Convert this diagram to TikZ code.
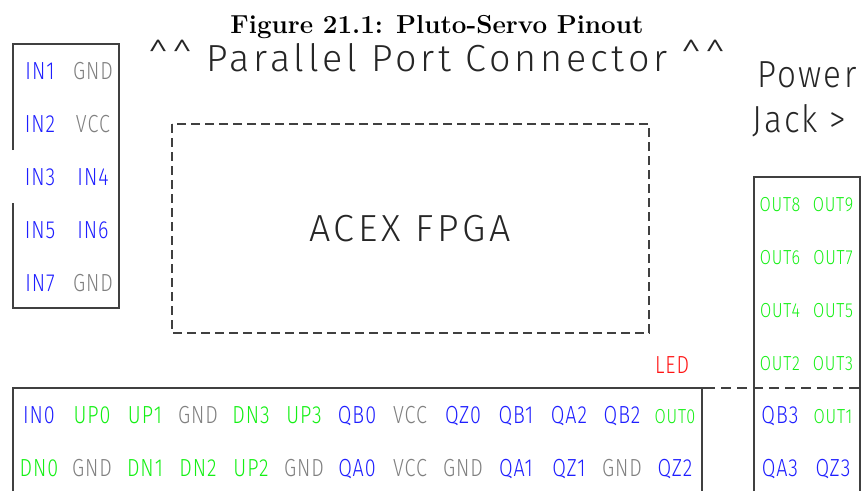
\documentclass[tikz,border=0pt]{standalone}
\usepackage{fontspec}
\usepackage{tikz}
\usetikzlibrary{positioning}
\newfontfamily\cadfont[LetterSpace=10]{Fira Sans Light}
\newfontfamily\jackfont[FakeStretch=0.88,LetterSpace=6]{Fira Sans Light}
\newfontfamily\pinfont[FakeStretch=0.8,LetterSpace=4]{Fira Sans Light}
\definecolor{pinblue}{RGB}{30,30,255}
\definecolor{pingreen}{RGB}{20,240,20}
\definecolor{pingray}{RGB}{128,128,128}
\definecolor{ledred}{RGB}{255,20,20}

\begin{document}
\begin{tikzpicture}[x=1pt,y=-1pt,
  big/.style={font=\cadfont\fontsize{37.7}{45}\selectfont,text=black!85,inner sep=0pt},
  jacktext/.style={big,font=\jackfont\fontsize{37.7}{45}\selectfont,anchor=base west},
  pin/.style={font=\pinfont\fontsize{24.7}{28}\selectfont,inner sep=0pt,anchor=base},
  outpin/.style={pin,font=\pinfont\fontsize{20.3}{24}\selectfont,text=pingreen},
  frame/.style={draw=black!75,line width=1.2pt},
  gapline/.style={frame,dash pattern=on 9pt off 5pt}]
\useasboundingbox (0,0) rectangle (864,491);
\node[font=\fontsize{26}{30}\selectfont\bfseries,anchor=base,inner sep=0pt] (title) at (437,33) {Figure 21.1: Pluto-Servo Pinout};
\node[big,anchor=base] (port) at (437,71) {\^{}\^{} Parallel Port Connector \^{}\^{}};
\node[jacktext] (power) at (757,87) {Power};
\node[jacktext] (jack) at (752,132) {Jack >};
\node[big] (fpga) at (410,229) {ACEX FPGA};
\node[pin,text=ledred] (led) at (672,373) {LED};
\draw[frame] (13,150) -- (13,44) -- (119,44) -- (119,308) -- (13,308) -- (13,203);
\draw[gapline] (172,124) rectangle (649,333);
\draw[frame] (13,491) -- (13,388) -- (705,388);
\draw[gapline,dash pattern=on 10pt off 6pt] (705,388) -- (864,388);
\draw[frame] (702,388) -- (702,491);
\draw[frame] (754,491) -- (754,177) -- (860,177) -- (860,491);
\foreach \a/\ca/\b/\cb [count=\i] in {IN1/pinblue/GND/pingray,IN2/pinblue/VCC/pingray,IN3/pinblue/IN4/pinblue,IN5/pinblue/IN6/pinblue,IN7/pinblue/GND/pingray}{
  \node[pin,text=\ca] (inL\i) at (40,{79+53*(\i-1)}) {\a};
  \node[pin,text=\cb] (inR\i) at (93,{79+53*(\i-1)}) {\b};
}
\foreach \t/\c [count=\i] in {IN0/pinblue,UP0/pingreen,UP1/pingreen,GND/pingray,DN3/pingreen,UP3/pingreen,QB0/pinblue,VCC/pingray,QZ0/pinblue,QB1/pinblue,QA2/pinblue,QB2/pinblue}{\node[pin,text=\c] (top\i) at ({39+53*(\i-1)},423) {\t};}
\node[outpin] (top13) at (675,423) {OUT0};
\foreach \t/\c [count=\i] in {DN0/pingreen,GND/pingray,DN1/pingreen,DN2/pingreen,UP2/pingreen,GND/pingray,QA0/pinblue,VCC/pingray,GND/pingray,QA1/pinblue,QZ1/pinblue,GND/pingray,QZ2/pinblue}{\node[pin,text=\c] (bot\i) at ({39+53*(\i-1)},476) {\t};}
\foreach \a/\b [count=\i] in {OUT8/OUT9,OUT6/OUT7,OUT4/OUT5,OUT2/OUT3}{
  \node[outpin] (outL\i) at (780,{211+53*(\i-1)}) {\a};
  \node[outpin] (outR\i) at (833,{211+53*(\i-1)}) {\b};
}
\node[pin,text=pinblue] (qb3) at (780,423) {QB3};
\node[outpin] (out1) at (833,423) {OUT1};
\node[pin,text=pinblue] (qa3) at (780,476) {QA3};
\node[pin,text=pinblue] (qz3) at (833,476) {QZ3};
\end{tikzpicture}
\end{document}
